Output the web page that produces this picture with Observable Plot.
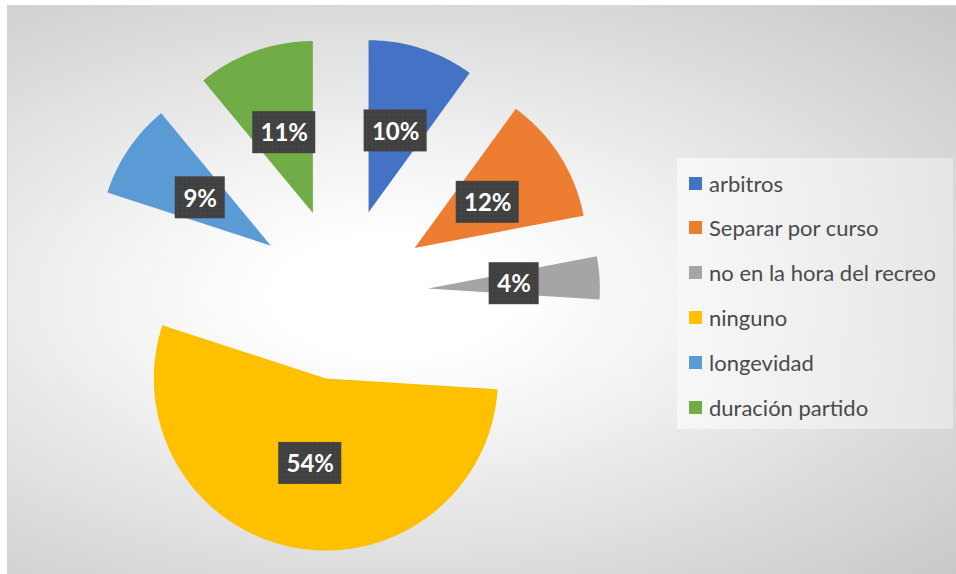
<!DOCTYPE html>
<html>
<head>
<meta charset="utf-8">
<script src="https://cdn.jsdelivr.net/npm/d3@7"></script>
<script src="https://cdn.jsdelivr.net/npm/@observablehq/plot@0.6"></script>
<style>
  html, body { margin: 0; padding: 0; background: #fff; }
  #page { position: relative; width: 956px; height: 574px; overflow: hidden; background: #fff; }
  #bg { position: absolute; left: 7px; top: 5px; width: 960px; height: 580px;
        border-left: 1px solid #d6d6d6; border-top: 1px solid #d6d6d6;
        background: radial-gradient(ellipse farthest-corner at 40% 50%, #ffffff 0%, #ffffff 14%, #f3f3f3 35%, #c6c6c6 100%); }
  #chart { position: absolute; left: 0; top: 0; }
  #legend { position: absolute; left: 677px; top: 158px; width: 276px; height: 271px;
            background: linear-gradient(to right, rgba(248,248,248,0.9), rgba(232,232,232,0.85)); }
  .item { position: absolute; left: 12px; height: 24px; display: flex; align-items: center;
          font-family: Lato, "Open Sans", sans-serif; font-size: 22px; color: #4a4a4a; white-space: nowrap; }
  .sw { width: 13px; height: 13px; margin-right: 7px; flex: none; }
</style>
</head>
<body>
<div id="page">
  <div id="bg"></div>
  <div id="chart"></div>
  <div id="legend"></div>
</div>
<script>
// ---- data ----
const categories = ["arbitros", "Separar por curso", "no en la hora del recreo", "ninguno", "longevidad", "duración partido"];
const values = [10, 12, 4, 54, 9, 11];
const colors = ["#4472C4", "#ED7D31", "#A5A5A5", "#FFC000", "#5B9BD5", "#70AD47"];

// ---- layout constants (pixels) ----
const W = 956, H = 574;
const R = 172;              // pie radius in px
const CX = 342, CY = 294;   // pie centre in px
const explode = 0.5;        // explosion distance, in radii
const labelDist = 1.0;      // label distance from pie centre, in radii

const total = d3.sum(values);
const arcs = d3.pie().sort(null).value(d => d)(values);

// slice fans: arc points (x1,y1) joined to the exploded centre (x2,y2); unit = one radius, y down
const slices = arcs.map((a, i) => {
  const mid = (a.startAngle + a.endAngle) / 2;
  const ox = explode * Math.sin(mid), oy = -explode * Math.cos(mid);
  const p = [];
  const n = Math.max(8, Math.ceil((a.endAngle - a.startAngle) / (Math.PI / 180)));
  for (let k = 0; k <= n; k++) {
    const t = a.startAngle + (a.endAngle - a.startAngle) * k / n;
    p.push({name: categories[i], x1: ox + Math.sin(t), y1: oy - Math.cos(t), x2: ox, y2: oy});
  }
  return p;
});

// labels
const labels = arcs.map((a, i) => {
  const mid = (a.startAngle + a.endAngle) / 2;
  const text = Math.round(values[i] / total * 100) + "%";
  const wpx = 13 * text.length + 24, hpx = 42;
  const x = labelDist * Math.sin(mid), y = -labelDist * Math.cos(mid);
  return {text, x, y, x1: x - wpx / 2 / R, x2: x + wpx / 2 / R, y1: y - hpx / 2 / R, y2: y + hpx / 2 / R};
});

const plot = Plot.plot({
  width: W, height: H,
  marginLeft: 0, marginRight: 0, marginTop: 0, marginBottom: 0,
  style: "background: transparent; overflow: visible;",
  x: {domain: [-CX / R, (W - CX) / R], range: [0, W], axis: null},
  y: {domain: [-CY / R, (H - CY) / R], range: [0, H], axis: null},
  marks: [
    ...slices.map((p, i) => Plot.area(p, {x1: "x1", y1: "y1", x2: "x2", y2: "y2", fill: colors[i]})),
    Plot.rect(labels, {x1: "x1", x2: "x2", y1: "y1", y2: "y2", fill: "url(#dots)", ariaLabel: "labelbox"}),
    Plot.text(labels, {x: "x", y: "y", text: "text", fill: "white", fontSize: 24, fontWeight: "bold",
      fontFamily: "Lato, 'Open Sans', sans-serif", dy: 1})
  ]
});

// pattern + label shadow
const svg = d3.select(plot);
const defs = svg.insert("defs", ":first-child");
const pat = defs.append("pattern").attr("id", "dots").attr("width", 4.5).attr("height", 4.5)
  .attr("patternUnits", "userSpaceOnUse");
pat.append("rect").attr("width", 4.5).attr("height", 4.5).attr("fill", "#404040");
pat.append("rect").attr("x", 1.5).attr("y", 1.5).attr("width", 1.5).attr("height", 1.5).attr("fill", "#4e4e4e");
svg.selectAll('g[aria-label="labelbox"] rect').style("filter", "drop-shadow(2px 3px 2.5px rgba(0,0,0,0.45))");

document.getElementById("chart").appendChild(plot);

// legend
const legend = document.getElementById("legend");
categories.forEach((c, i) => {
  const it = document.createElement("div");
  it.className = "item";
  it.style.top = (13 + i * 44.8) + "px";
  const sw = document.createElement("span");
  sw.className = "sw";
  sw.style.background = colors[i];
  const tx = document.createElement("span");
  tx.textContent = c;
  it.appendChild(sw); it.appendChild(tx);
  legend.appendChild(it);
});
</script>
</body>
</html>
